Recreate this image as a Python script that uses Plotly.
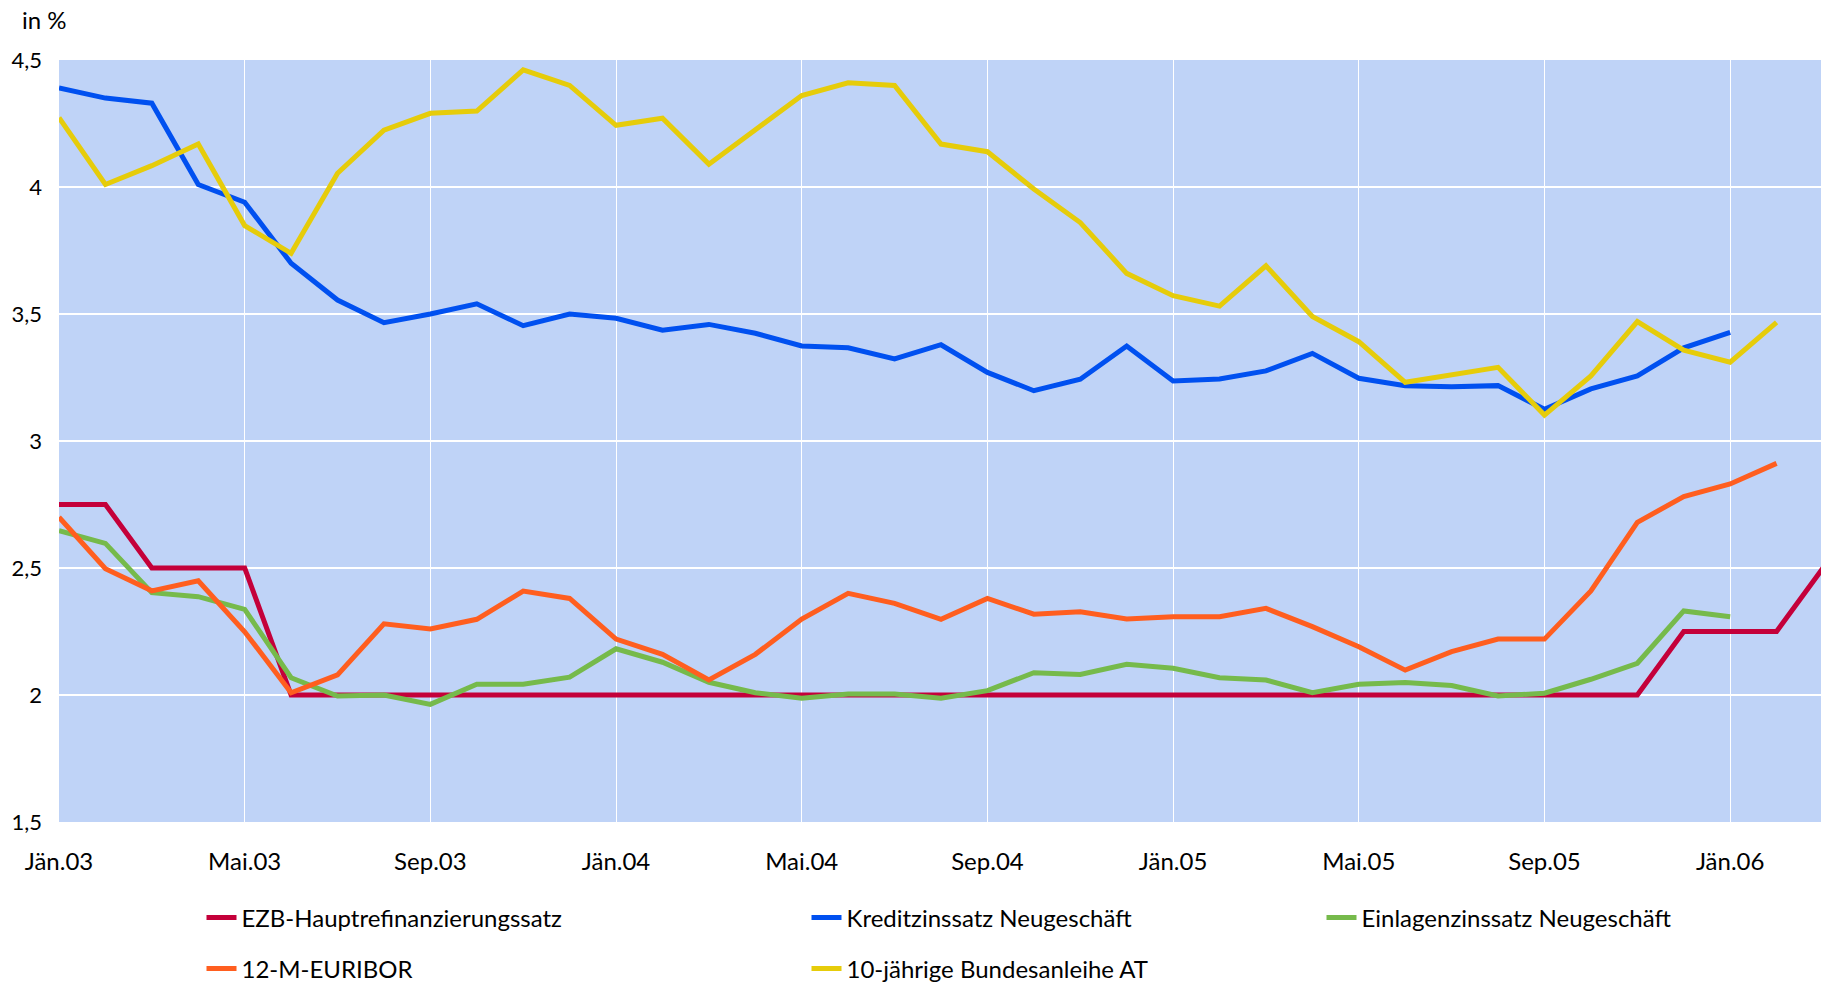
import plotly.graph_objects as go

months = []
for yy in ["03", "04", "05", "06"]:
    for m in ["Jän", "Feb", "Mär", "Apr", "Mai", "Jun", "Jul", "Aug", "Sep", "Okt", "Nov", "Dez"]:
        months.append(m + "." + yy)
months = months[:39]  # Jän.03 .. Mär.06

ezb = [2.75, 2.75, 2.5, 2.5, 2.5] + [2.0] * 30 + [2.25, 2.25, 2.25, 2.5]

kredit = [4.39, 4.35, 4.33, 4.01, 3.94, 3.70, 3.555, 3.466, 3.50, 3.54,
          3.454, 3.50, 3.483, 3.436, 3.459, 3.424, 3.374, 3.367, 3.323, 3.379,
          3.27, 3.198, 3.243, 3.374, 3.236, 3.244, 3.276, 3.345, 3.247, 3.218,
          3.214, 3.218, 3.125, 3.205, 3.256, 3.367, 3.428]

einlagen = [2.647, 2.597, 2.403, 2.387, 2.337, 2.068, 1.996, 2.0, 1.963, 2.042,
            2.042, 2.07, 2.182, 2.129, 2.05, 2.009, 1.987, 2.004, 2.004, 1.987,
            2.017, 2.088, 2.081, 2.121, 2.105, 2.068, 2.059, 2.009, 2.042, 2.049,
            2.037, 1.996, 2.007, 2.062, 2.125, 2.331, 2.308]

euribor = [2.70, 2.497, 2.41, 2.45, 2.249, 2.009, 2.079, 2.28, 2.26, 2.298,
           2.409, 2.38, 2.22, 2.16, 2.059, 2.16, 2.299, 2.40, 2.361, 2.298,
           2.38, 2.318, 2.328, 2.299, 2.308, 2.308, 2.341, 2.269, 2.19, 2.098,
           2.171, 2.22, 2.22, 2.41, 2.68, 2.781, 2.831, 2.912]

bund = [4.273, 4.01, 4.084, 4.169, 3.848, 3.739, 4.054, 4.224, 4.29, 4.299,
        4.461, 4.40, 4.243, 4.271, 4.09, 4.224, 4.36, 4.41, 4.40, 4.169,
        4.139, 3.992, 3.86, 3.66, 3.572, 3.531, 3.69, 3.49, 3.391, 3.231,
        3.26, 3.29, 3.102, 3.256, 3.47, 3.358, 3.31, 3.467]

# name, values, colour, which legend box (row 1 = legend/legend3, row 2 = legend2)
series = [
    ("EZB-Hauptrefinanzierungssatz", ezb, "#C4003A", "legend"),
    ("Kreditzinssatz Neugeschäft", kredit, "#0050F0", "legend"),
    ("Einlagenzinssatz Neugeschäft", einlagen, "#76BA4B", "legend3"),
    ("12-M-EURIBOR", euribor, "#FF5E1F", "legend2"),
    ("10-jährige Bundesanleihe AT", bund, "#E6CC0A", "legend2"),
]

font = "Lato, 'Open Sans', sans-serif"
fsize = 24
W, H = 1829, 990

fig = go.Figure()
for name, vals, col, lg in series:
    fig.add_trace(go.Scatter(x=months[:len(vals)], y=vals, name=name, mode="lines",
                             line=dict(color=col, width=5), legend=lg))

tick_months = months[::4]

leg = dict(orientation="h", xanchor="left", yanchor="middle", entrywidth=560,
           xref="container", yref="container",
           font=dict(family=font, size=fsize, color="black"), bgcolor="rgba(0,0,0,0)")

# page body has an 8px margin, so everything is set 8px up/left
fig.update_layout(
    width=W, height=H,
    margin=dict(l=51, r=14, t=52, b=176),
    plot_bgcolor="#BFD3F7",
    paper_bgcolor="white",
    separators=",.",
    font=dict(family=font, size=fsize, color="black"),
    showlegend=True,
    legend=dict(leg, x=193.5 / W, y=1 - 910 / H),
    legend3=dict(leg, x=1313.5 / W, y=1 - 910 / H, entrywidth=0),
    legend2=dict(leg, x=193.5 / W, y=1 - 961 / H),
    title=dict(text="in %", x=14 / W, y=1 - 13 / H, xref="container", yref="container",
               xanchor="left", yanchor="middle", font=dict(family=font, size=fsize)),
)
fig.update_xaxes(type="category", categoryorder="array", categoryarray=months,
                 range=[0, 38], tickvals=tick_months, ticktext=tick_months,
                 showgrid=True, gridcolor="white", gridwidth=1, automargin=False,
                 ticks="", showline=False, zeroline=False, ticklabelstandoff=23)
fig.update_yaxes(range=[1.5, 4.5], dtick=0.5, showgrid=True, gridcolor="white",
                 gridwidth=1.5, ticks="", showline=False, zeroline=False,
                 automargin=False, ticklabelstandoff=16, tickfont=dict(size=22))

fig.write_html("out.html")
